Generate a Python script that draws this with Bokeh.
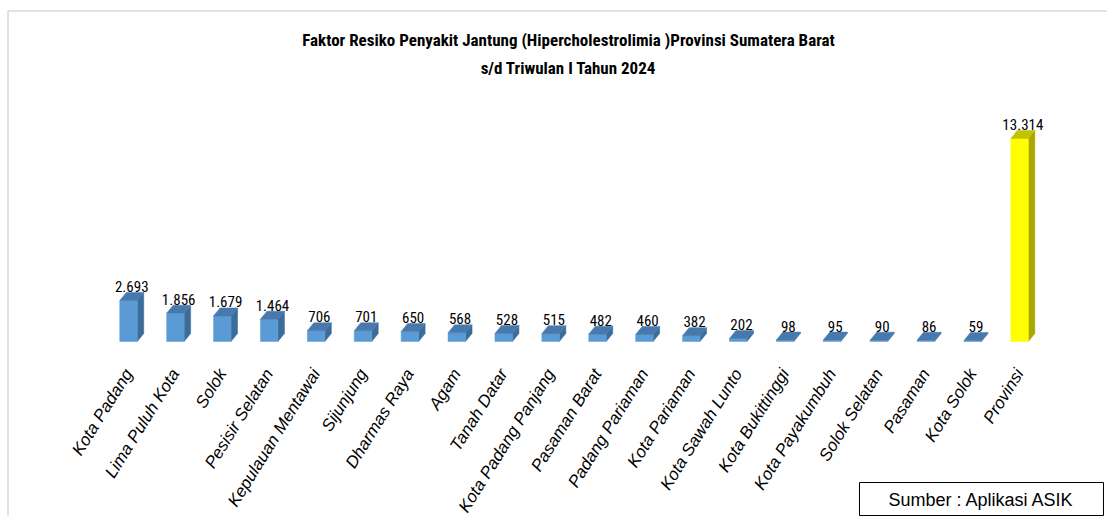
import math
from bokeh.plotting import figure
from bokeh.models import Range1d, Label
from bokeh.core.properties import value
from bokeh.embed import file_html
from bokeh.resources import INLINE

# ---- data ----
categories = ["Kota Padang", "Lima Puluh Kota", "Solok", "Pesisir Selatan",
              "Kepulauan Mentawai", "Sijunjung", "Dharmas Raya", "Agam",
              "Tanah Datar", "Kota Padang Panjang", "Pasaman Barat",
              "Padang Pariaman", "Kota Pariaman", "Kota Sawah Lunto",
              "Kota Bukittinggi", "Kota Payakumbuh", "Solok Selatan",
              "Pasaman", "Kota Solok", "Provinsi"]
values = [2693, 1856, 1679, 1464, 706, 701, 650, 568, 528, 515, 482,
          460, 382, 202, 98, 95, 90, 86, 59, 13314]
value_labels = [f"{v:,}".replace(",", ".") for v in values]
title_lines = ["Faktor Resiko Penyakit Jantung (Hipercholestrolimia )Provinsi Sumatera Barat",
               "s/d Triwulan I Tahun 2024"]
source_text = "Sumber : Aplikasi ASIK"

# ---- layout ----
W, H = 1107, 516
SX = 46.9          # px per category
SY = 0.01525       # px per unit value
X_LEFT_PX = 128    # canvas px of first category centre
BASE_PX = 175      # canvas px (from bottom) of baseline
x0 = -X_LEFT_PX / SX
x1 = x0 + W / SX
y0 = -BASE_PX / SY
y1 = y0 + H / SY

def dx(px):
    return px / SX

def dy(px):
    return px / SY

def cx(px):
    return x0 + px / SX

def cy(py_top):
    return y0 + (H - py_top) / SY

p = figure(width=W, height=H, x_range=Range1d(x0, x1), y_range=Range1d(y0, y1),
           output_backend="svg", toolbar_location=None,
           x_axis_type=None, y_axis_type=None,
           min_border=0, min_border_left=0, min_border_right=0,
           min_border_top=0, min_border_bottom=0)
p.grid.visible = False
p.outline_line_color = None
p.background_fill_color = "white"
p.border_fill_color = "white"

narrow = "Roboto Condensed"

# frame lines
p.segment(x0=[cx(7.5), cx(7.5)], y0=[cy(516), cy(10.5)],
          x1=[cx(7.5), cx(1107)], y1=[cy(10.5), cy(10.5)],
          line_color="#d9d9d9", line_width=1.5)

# ---- 3D bars ----
hw = dx(8.75)
ddx = dx(6.5)
ddy = dy(8)
xs = list(range(len(categories)))
front_col, side_col, top_col = [], [], []
for c in categories:
    if c == "Provinsi":
        front_col.append("#FFFF00"); side_col.append("#A8A800"); top_col.append("#C2C200")
    else:
        front_col.append("#5B9BD5"); side_col.append("#3B6C9A"); top_col.append("#4779AD")

side_x, side_y, top_x, top_y = [], [], [], []
for i, v in zip(xs, values):
    l, r = i - hw, i + hw
    side_x.append([r, r + ddx, r + ddx, r])
    side_y.append([0, ddy, v + ddy, v])
    top_x.append([l, r, r + ddx, l + ddx])
    top_y.append([v, v, v + ddy, v + ddy])

p.patches(xs=side_x, ys=side_y, fill_color=side_col, line_color=side_col, line_width=0.5)
p.quad(left=[i - hw for i in xs], right=[i + hw for i in xs], bottom=0, top=values,
       fill_color=front_col, line_color=front_col, line_width=0.5)
p.patches(xs=top_x, ys=top_y, fill_color=top_col, line_color=top_col, line_width=0.5)

# value labels
p.text(x=[i + ddx / 2 for i in xs], y=[v + ddy + dy(6) for v in values], text=value_labels,
       text_align="center", text_baseline="alphabetic",
       text_font=value(narrow), text_font_size="15px", text_color="#000000")

# category labels (rotated)
for i, c in zip(xs, categories):
    p.add_layout(Label(x=i + dx(0), y=-dy(29), text=c,
                       angle=58 * math.pi / 180,
                       text_align="right", text_baseline="middle",
                       text_font="Liberation Sans", text_font_style="italic",
                       text_font_size="17px", text_color="#000000"))

# title
for k, t in enumerate(title_lines):
    p.add_layout(Label(x=568, y=H - 39 - 28 * k, x_units="screen", y_units="screen",
                       text=t, text_align="center", text_baseline="middle",
                       text_font=narrow, text_font_style="bold",
                       text_font_size="17px", text_color="#000000"))

# source box
p.quad(left=[cx(859)], right=[cx(1103)], top=[cy(482)], bottom=[cy(515)],
       fill_color="white", line_color="#000000", line_width=1)
p.add_layout(Label(x=981, y=H - 499, x_units="screen", y_units="screen",
                   text=source_text, text_align="center", text_baseline="middle",
                   text_font="Liberation Sans", text_font_size="18px",
                   text_color="#000000"))

open("out.html", "w").write(file_html(p, INLINE))
